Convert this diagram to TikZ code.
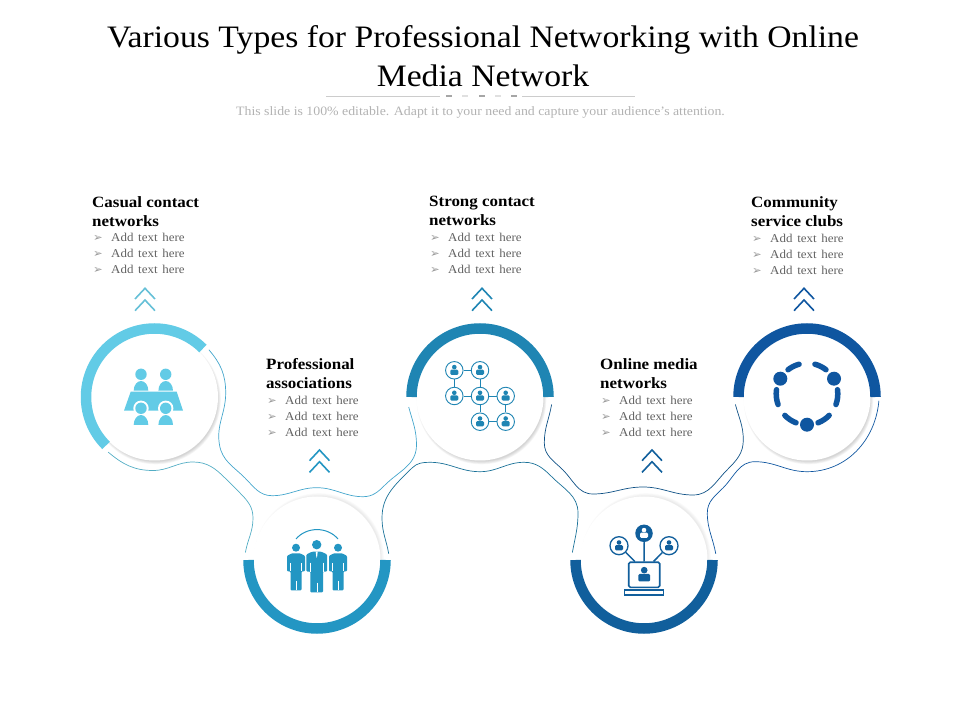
\documentclass[tikz,border=0pt]{standalone}
\usepackage{fontspec}
\setmainfont[FakeStretch=1.08]{Liberation Serif}
\newfontfamily\dejavu{DejaVu Sans}
\usetikzlibrary{positioning}
\definecolor{casual}{HTML}{62CBE6}
\definecolor{assoc}{HTML}{2396C3}
\definecolor{strong}{HTML}{1F85B3}
\definecolor{online}{HTML}{115F9C}
\definecolor{clubs}{HTML}{0F56A0}
\newcommand{\addline}{\makebox[19pt][l]{\hspace{1pt}{\dejavu\fontsize{11.5}{16}\selectfont\color{black!40}➢}}Add\hspace{1.5pt} text\hspace{1.5pt} here}
\tikzset{
 persona/.pic={
  \path[pic actions] (0,3.2) circle (2.3);
  \path[pic actions,rounded corners=1.2] (-4,-4.6) -- (-4,0.6) -- (4,0.6) -- (4,-4.6) -- cycle;
 },
 chevrons/.pic={
  \draw[pic actions,line width=1.6] (-10,-10.7) -- (0,0) -- (10,-10.7);
  \draw[pic actions,line width=1.6] (-10,-22.4) -- (0,-11.7) -- (10,-22.4);
 },
 suit/.pic={
  \path[pic actions,rounded corners=1] (-9,-2.5) -- (-4,0) -- (4,0) -- (9,-2.5) -- (9,-18) -- (5.5,-18) -- (5.5,-37) -- (-5.5,-37) -- (-5.5,-18) -- (-9,-18) -- cycle;
  \draw[white,line width=.4] (0,-28) -- (0,-37) (-5.5,-10) -- (-5.5,-18) (5.5,-10) -- (5.5,-18);
 }
}
\begin{document}
\begin{tikzpicture}[x=1pt,y=1pt]
 \tikzstyle{disk} = [circle, fill=white, inner sep=0pt, minimum size=127pt];
 \tikzstyle{halo} = [circle, inner sep=0pt, outer sep=0pt, minimum size=144pt];
 \tikzstyle{head} = [inner sep=0pt, anchor=north west, align=left, font=\fontsize{15.7}{19}\selectfont\bfseries];
 \tikzstyle{items} = [inner sep=0pt, align=left, text=black!62, font=\fontsize{12}{16}\selectfont];
 \tikzstyle{wire} = [line width=.7pt];
 \tikzstyle{netnode} = [circle, draw=strong, fill=white, line width=.9pt, inner sep=0pt, minimum size=17.5pt];
 \useasboundingbox (0,0) rectangle (960,720);

 \node (title) [inner sep=0pt, align=center, font=\fontsize{31.2}{39}\selectfont] at (483,664) {Various Types for Professional Networking with Online\\Media Network};
 \node (subtitle) [inner sep=0pt, text=black!30, font=\fontsize{12.8}{14}\selectfont] at (480.5,607.7) {This slide is 100\% editable. Adapt it to your need and capture your audience's attention.};
 \draw [black!20, line width=.6pt] (326,624) -- (440,624) (522,624) -- (635,624);
 \foreach \xd/\op in {449/35, 465/12, 482/35, 498/12, 514/35}
  \draw [black!\op, line width=2pt] (\xd-3,624) -- (\xd+3,624);

 \foreach \n/\xc/\yc/\sx/\sy/\op in {1/154.5/323/1.5/-2.5/.035, 2/317/160/2/2/.015, 3/480/323/1.5/-2.5/.035, 4/644/160/2/2/.015, 5/807/323/1.5/-2.5/.035} {
  \foreach \gr in {62,62.7,63.4,64.1,64.8}
   \fill [black, opacity=\op] (\xc+\sx,\yc+\sy) circle (\gr);
  \node (disk\n) [disk] at (\xc,\yc) {};
  \node (halo\n) [halo] at (\xc,\yc) {};
 }

 \foreach \n/\col/\a in {1/casual/45, 2/assoc/180, 3/strong/0, 4/online/180, 5/clubs/0}
  \draw [\col, line width=10.5pt] (disk\n.center) ++(\a:68.5) arc [start angle=\a, delta angle=180, radius=68.5];

 \draw [wire, casual!85!black] (halo1.230) to[out=-40,in=180] (153,249.5) to[out=0,in=180] (193,258) to[out=0,in=135] (225,242) to[out=-45,in=135] (240,227) to[out=-45,in=90] (253,202) to[out=-90,in=80] (halo2.174);
 \draw [wire, assoc!85!white] (halo1.41) to[out=-49,in=90] (225.7,327) to[out=-90,in=100] (219.5,275) to[out=-80,in=135] (245,242) to[out=-45,in=180] (272,224.3) to[out=0,in=180] (316.7,232.3) to[out=0,in=180] (363,223.3) to[out=0,in=-135] (385,235) to[out=45,in=-90] (416.5,275) to[out=90,in=-75] (halo3.188);
 \draw [wire, strong!85!black] (halo2.5) to[out=100,in=-90] (382,202) to[out=90,in=-135] (412,252) to[out=45,in=180] (430,257.7) to[out=0,in=180] (480,248.3) to[out=0,in=180] (524,257.7) to[out=0,in=135] (552,243) to[out=-45,in=90] (578,207) to[out=-90,in=80] (halo4.174);
 \draw [wire, online!85!black] (halo3.-6) to[out=-100,in=90] (544.3,277) to[out=-90,in=135] (563,250) to[out=-45,in=180] (593,226) to[out=0,in=180] (643,233) to[out=0,in=180] (693,225) to[out=0,in=-135] (727,250) to[out=45,in=-90] (743.3,280) to[out=90,in=-75] (halo5.186);
 \draw [wire, clubs] (halo4.5) to[out=100,in=-90] (707.3,207) to[out=90,in=-135] (723,232) to[out=45,in=180] (755,258.3) to[out=0,in=180] (807,248.3) to[out=0,in=-95] (halo5.-3);

 \foreach \n/\xh/\yh/\txt in {1/92/524/Casual contact\\networks, 2/266/361.3/Professional\\associations, 3/429/524/Strong contact\\networks, 4/600/361.3/Online media\\networks, 5/751/524/Community\\service clubs} {
  \node (head\n) [head] at (\xh,\yh) {\txt};
  \node (list\n) [items, below right=7pt and 0pt of head\n.south west] {\addline\\\addline\\\addline};
 }
 \foreach \xv/\yv/\col in {145/431.7/casual!85!gray, 319.5/270/assoc, 482/431.7/strong, 652/270/online, 804/431.7/clubs}
  \pic [draw=\col] at (\xv,\yv) {chevrons};

 \fill [casual] (130.7,328.3) -- (176.7,328.3) -- (183,309.3) -- (124,309.3) -- cycle;
 \foreach \xp in {141,165.7} {
  \fill [casual] (\xp,345.7) circle (5.7);
  \fill [casual] (\xp-7.3,329.3) arc [start angle=180, end angle=0, x radius=7.3, y radius=9.7] -- cycle;
  \fill [white] (\xp,311.7) circle (7.7);
  \fill [casual] (\xp,311.7) circle (5.7);
  \fill [casual] (\xp-7.3,295) arc [start angle=180, end angle=0, x radius=7.3, y radius=10] -- cycle;
 }

 \draw [assoc, line width=1pt] (296,181) to[out=50,in=130] (338,181);
 \fill [assoc] (316.7,175.3) circle (4.7);
 \fill [assoc] (296,172.3) circle (4);
 \fill [assoc] (338,172.3) circle (4);
 \pic [fill=assoc] at (296,166.7) {suit};
 \pic [fill=assoc] at (338,166.7) {suit};
 \pic [fill=assoc, xscale=1.15, yscale=1.1] at (316.7,168.3) {suit};
 \fill [white] (315.7,168.3) -- (317.7,168.3) -- (317.2,164) -- (316.7,162) -- (316.2,164) -- cycle;

 \foreach \m/\xn/\yn in {a/454.3/349.7, b/480/349.7, c/454.3/324, d/480/324, e/505.7/324, f/480/298.3, g/505.7/298.3} {
  \node (net\m) [netnode] at (\xn,\yn) {};
  \pic [fill=strong] at (net\m) {persona};
 }
 \foreach \p/\q in {a/b, a/c, b/d, c/d, d/e, d/f, e/g, f/g}
  \draw [strong, line width=.9pt] (net\p) -- (net\q);

 \tikzstyle{contact} = [circle, draw=online, fill=white, line width=1.3pt, inner sep=0pt, minimum size=18pt];
 \node (screen) [draw=online, line width=1.6pt, rounded corners=1.5pt, inner sep=0pt, minimum width=31pt, minimum height=25pt] at (644.2,145.2) {};
 \node (stand) [draw=online, line width=1.5pt, inner sep=0pt, minimum width=39pt, minimum height=5pt] at (644,127.5) {};
 \node (lead) [circle, fill=online, inner sep=0pt, minimum size=17.5pt] at (644,186.7) {};
 \node (peerl) [contact] at (619,174.3) {};
 \node (peerr) [contact] at (669,174.3) {};
 \pic [fill=white] at (lead) {persona};
 \pic [fill=online] at (peerl) {persona};
 \pic [fill=online] at (peerr) {persona};
 \pic [fill=online, scale=1.45] at (screen) {persona};
 \draw [online, line width=1.5pt] (lead) -- (screen.north);
 \draw [online, line width=1.5pt] (peerl) -- (screen.125);
 \draw [online, line width=1.5pt] (peerr) -- (screen.55);

 \foreach \xa/\ya in {780.3/341.3, 834/341.3, 807/295.3}
  \fill [clubs] (\xa,\ya) circle (7);
 \foreach \sa/\ea in {105/128, 52/75, 172/200, -20/8, 224/249, 291/316}
  \draw [clubs, line width=5.5pt, line cap=round] (807,326) ++(\sa:30.8) arc [start angle=\sa, end angle=\ea, radius=30.8];
\end{tikzpicture}
\end{document}
